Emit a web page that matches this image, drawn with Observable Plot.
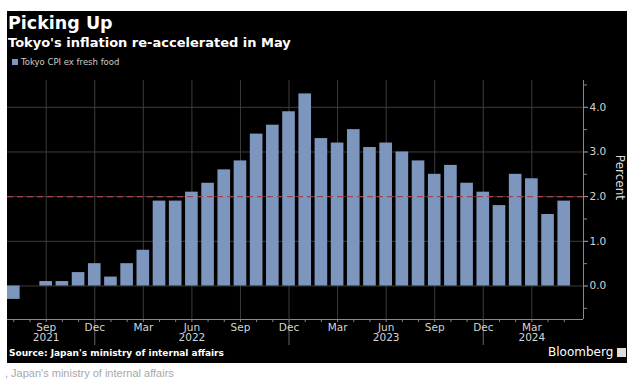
<!DOCTYPE html>
<html><head><meta charset="utf-8">
<script src="https://cdn.jsdelivr.net/npm/d3@7"></script>
<script src="https://cdn.jsdelivr.net/npm/@observablehq/plot@0.6"></script>
<style>
body{margin:0;background:#fff;width:634px;height:381px;position:relative;overflow:hidden;font-family:"DejaVu Sans",sans-serif}
#box{position:absolute;left:7px;top:11px;width:620px;height:352px;background:#000}
#title{position:absolute;left:8px;top:12px;color:#fff;font-weight:bold;font-size:17.5px;line-height:22px;white-space:nowrap}
#subtitle{position:absolute;left:8px;top:35px;color:#fff;font-weight:bold;font-size:13px;line-height:15px;white-space:nowrap}
#legend{position:absolute;left:12px;top:57px;color:#ccc;font-size:8.5px;line-height:11px;white-space:nowrap}
#legend span{display:inline-block;width:6px;height:6px;background:#7d96bd;margin-right:3px;vertical-align:0px}
#chart{position:absolute;left:0;top:70px}
#source{position:absolute;left:9px;top:348px;color:#fff;font-weight:bold;font-size:9px;line-height:11px;white-space:nowrap}
#bbg{position:absolute;left:548px;top:345px;color:#fff;font-size:12px;line-height:14px;white-space:nowrap}
#bbg i{display:inline-block;width:9px;height:9px;background:#ddd;margin-left:4px;vertical-align:-1px}
#foot{position:absolute;left:5px;top:367px;color:#a8a8a8;font-family:"Liberation Sans",Arial,sans-serif;font-size:11px;line-height:12px;white-space:nowrap}
</style>
</head><body>
<div id="box"></div>
<div id="title">Picking Up</div>
<div id="subtitle">Tokyo's inflation re-accelerated in May</div>
<div id="legend"><span></span>Tokyo CPI ex fresh food</div>
<div id="chart"></div>
<div id="source">Source: Japan's ministry of internal affairs</div>
<div id="bbg">Bloomberg<i></i></div>
<div id="foot">, Japan's ministry of internal affairs</div>
<script>
const months = ["2021-07","2021-08","2021-09","2021-10","2021-11","2021-12",
  "2022-01","2022-02","2022-03","2022-04","2022-05","2022-06","2022-07","2022-08","2022-09","2022-10","2022-11","2022-12",
  "2023-01","2023-02","2023-03","2023-04","2023-05","2023-06","2023-07","2023-08","2023-09","2023-10","2023-11","2023-12",
  "2024-01","2024-02","2024-03","2024-04","2024-05"];
const values = [-0.3,0.0,0.1,0.1,0.3,0.5,
  0.2,0.5,0.8,1.9,1.9,2.1,2.3,2.6,2.8,3.4,3.6,3.9,
  4.3,3.3,3.2,3.5,3.1,3.2,3.0,2.8,2.5,2.7,2.3,2.1,
  1.8,2.5,2.4,1.6,1.9];
const tickMonths = ["2021-09","2021-12","2022-03","2022-06","2022-09","2022-12","2023-03","2023-06","2023-09","2023-12","2024-03"];
const tickLabels = ["Sep","Dec","Mar","Jun","Sep","Dec","Mar","Jun","Sep","Dec","Mar"];
const yearMonths = ["2021-09","2022-06","2023-06","2024-03"];
const yearLabels = ["2021","2022","2023","2024"];
const yearSepMonths = ["2021-12","2022-12","2023-12"];
const yTicks = [0,1,2,3,4];
const yMinor = [-0.5,0.5,1.5,2.5,3.5,4.5];
const target = 2;

const data = months.map((m,i)=>({i, m, v: values[i]}));
const idx = m => months.indexOf(m);
const half = 0.39;
const xDom = [-half, months.length - 1 + 1.19];
const yDom = [-0.75, 4.6];

const chart = Plot.plot({
  width: 634, height: 285,
  marginLeft: 7, marginRight: 51, marginTop: 10, marginBottom: 36,
  style: {background: "transparent", color: "#d4d4d4", fontFamily: "DejaVu Sans", fontSize: "10.5px"},
  x: {domain: xDom, axis: null},
  y: {domain: yDom, axis: null},
  marks: [
    Plot.gridY(yTicks, {stroke: "#3c3c3c", strokeOpacity: 1}),
    Plot.gridX(tickMonths.map(idx), {stroke: "#3c3c3c", strokeOpacity: 1}),
    Plot.rectY(data, {x1: d => d.i - half, x2: d => d.i + half, y: "v", fill: "#7d96bd"}),
    Plot.ruleY([target], {stroke: "#a4434d", strokeDasharray: "6,4", strokeWidth: 1.3}),
    Plot.ruleY([yDom[0]], {stroke: "#8a8a8a"}),
    Plot.ruleX([xDom[1]], {stroke: "#8a8a8a"}),
    Plot.axisY(yTicks, {anchor: "right", tickSize: 4, tickPadding: 2, tickFormat: d => d.toFixed(1), label: null, stroke: "#aaa"}),
    Plot.axisY(yMinor, {anchor: "right", tickSize: 3, tickFormat: () => "", label: null, stroke: "#888"}),
    Plot.text(["Percent"], {frameAnchor: "right", rotate: 90, dx: 36, fontSize: 12, fill: "#ddd"}),
    Plot.axisX(months.map(idx), {anchor: "bottom", tickSize: 3, tickFormat: () => "", label: null, stroke: "#888"}),
    Plot.axisX(yearSepMonths.map(idx), {anchor: "bottom", tickSize: 26, tickFormat: () => "", label: null, stroke: "#666"}),
    Plot.axisX(tickMonths.map(idx), {anchor: "bottom", tickSize: 0, tickPadding: 4, label: null,
      tickFormat: i => {
        const m = months[i];
        const lab = tickLabels[tickMonths.indexOf(m)];
        const y = yearMonths.indexOf(m);
        return y >= 0 ? lab + "\n" + yearLabels[y] : lab;
      }})
  ]
});
document.getElementById("chart").append(chart);
</script>
</body></html>
